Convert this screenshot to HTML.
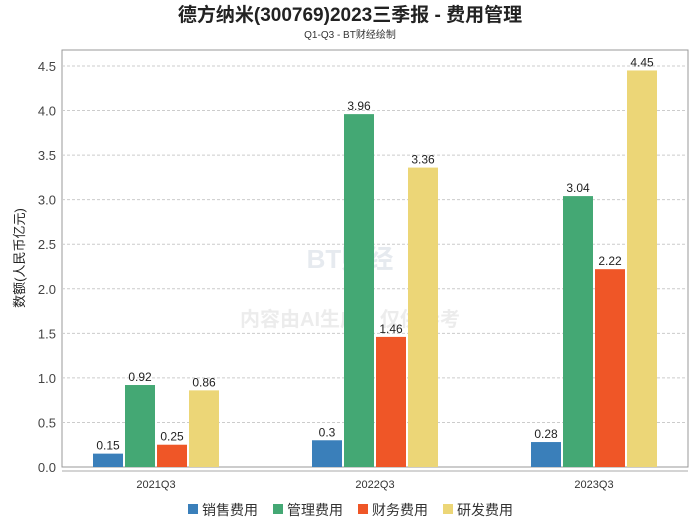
<!DOCTYPE html>
<html><head><meta charset="utf-8"><style>
body{margin:0;background:#fff;font-family:"Liberation Sans","Noto Sans CJK SC",sans-serif;}
svg text{font-family:"Liberation Sans","Noto Sans CJK SC",sans-serif;}
</style></head><body>
<svg id="c" width="700" height="524" xmlns="http://www.w3.org/2000/svg">
<text x="350" y="21" text-anchor="middle" font-size="19" font-weight="bold" fill="#222">德方纳米(300769)2023三季报 - 费用管理</text>
<text x="350" y="38" text-anchor="middle" font-size="10" fill="#333">Q1-Q3 - BT财经绘制</text>
<rect x="62" y="50" width="626" height="417" fill="none" stroke="#999"/>
<g id="grid"></g>
<text x="350" y="268" text-anchor="middle" font-size="26" font-weight="bold" fill="#e6eaef">BT财经</text>
<text x="350" y="326" text-anchor="middle" font-size="20" font-weight="bold" fill="#ececec">内容由AI生成，仅供参考</text>
<g id="bars"></g>
<text transform="translate(24,258) rotate(-90)" text-anchor="middle" font-size="13" fill="#222">数额(人民币亿元)</text>
<g id="legend"></g>
</svg>
<script>
const categories=["2021Q3","2022Q3","2023Q3"];
const seriesNames=["销售费用","管理费用","财务费用","研发费用"];
const colors=["#3a7fba","#44a874","#ef5627","#ecd677"];
const sales=[0.15,0.3,0.28];
const admin=[0.92,3.96,3.04];
const finance=[0.25,1.46,2.22];
const rd=[0.86,3.36,4.45];
const yTicks=[0,0.5,1,1.5,2,2.5,3,3.5,4,4.5];
const series=[sales,admin,finance,rd];
const NS="http://www.w3.org/2000/svg";
const x0=62,x1=688,yb=467,yt=66;
const y=v=>yb-(yb-yt)*v/4.5;
const xc=i=>156+219*i;
function mk(t,a,p){const e=document.createElementNS(NS,t);for(const k in a)e.setAttribute(k,a[k]);p.appendChild(e);return e;}
const grid=document.getElementById('grid');
yTicks.forEach(t=>{
 if(t>0){const l=mk('line',{x1:x0,x2:x1,y1:y(t),y2:y(t),stroke:'#ccc','stroke-dasharray':'3,2'},grid);
 
 }
 const tx=mk('text',{x:56,y:y(t)+5,'text-anchor':'end','font-size':13,fill:'#444'},grid);tx.textContent=t.toFixed(1);
 
 
});
mk('line',{x1:x0,x2:x1,y1:471,y2:471,stroke:'#aaa'},grid);
const bars=document.getElementById('bars');
const bw=30,gap=2;
categories.forEach((c,i)=>{
 const t=mk('text',{x:xc(i),y:488,'text-anchor':'middle','font-size':11,fill:'#333'},bars);t.textContent=c;
 
 
 series.forEach((s,j)=>{
  const bx=xc(i)-2*bw-1.5*gap+j*(bw+gap);
  const r=mk('rect',{x:bx,y:y(s[i]),width:bw,height:yb-y(s[i]),fill:colors[j]},bars);
  
  
  const l=mk('text',{x:bx+bw/2,y:y(s[i])-4,'text-anchor':'middle','font-size':12,fill:'#222'},bars);
  l.textContent=String(s[i]);
  
  
 });
});
const lg=document.getElementById('legend');
seriesNames.forEach((n,j)=>{
 const lx=188+j*85;
 const g=mk('g',{},lg);
 
 
 mk('rect',{x:lx,y:504,width:10,height:10,fill:colors[j]},g);
 const t=mk('text',{x:lx+14,y:515,'font-size':14,fill:'#333'},g);t.textContent=n;
});
</script>
</body></html>
